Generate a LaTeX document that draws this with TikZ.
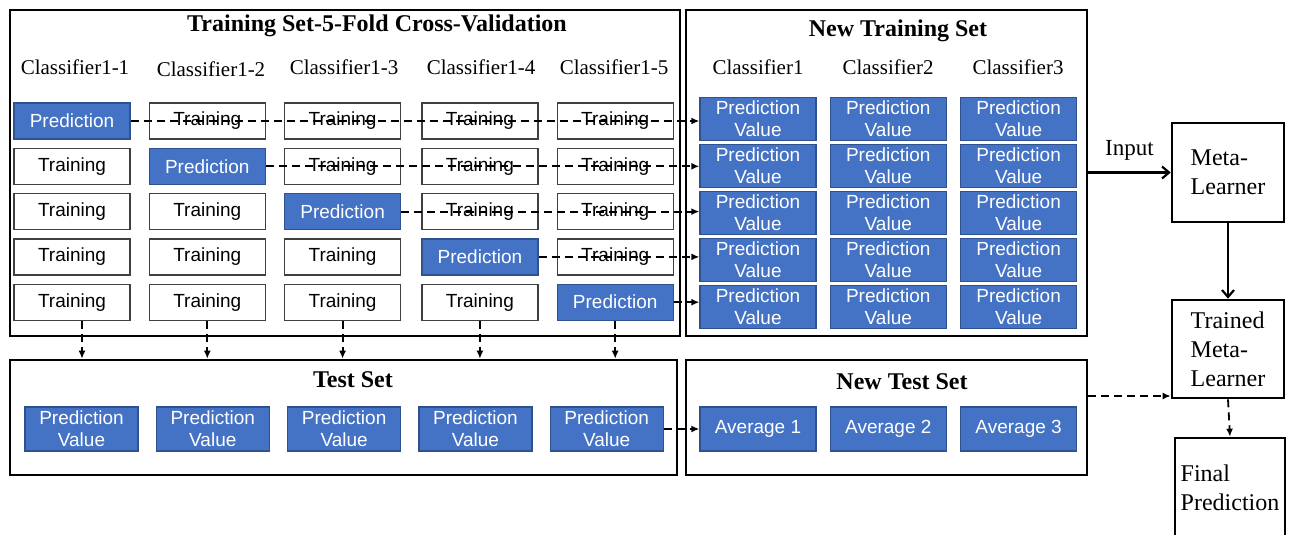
\documentclass[tikz,border=0pt]{standalone}
\usepackage{fontspec}
\setmainfont{Liberation Serif}
\setsansfont{Liberation Sans}
\usetikzlibrary{arrows.meta, positioning}
\definecolor{predfill}{HTML}{4472C4}
\definecolor{preddraw}{HTML}{2F528F}

\begin{document}
\begin{tikzpicture}[
  x=1pt, y=-1pt,
  frame/.style={draw, line width=2.6pt, inner sep=0pt},
  head/.style={font=\fontsize{24}{28}\selectfont\bfseries},
  clf/.style={font=\fontsize{21}{24}\selectfont},
  trainbox/.style={draw=black!75, line width=1.3pt, fill=white, minimum width=116pt, minimum height=36pt,
                   inner sep=0pt, font=\sffamily\fontsize{19}{22}\selectfont},
  predbox/.style={trainbox, draw=preddraw, fill=predfill, text=white},
  valbox/.style={predbox, minimum height=43pt, align=center},
  metabox/.style={draw, line width=2.6pt, minimum width=112pt, inner sep=0pt, align=left,
                  font=\fontsize{24}{29}\selectfont},
  darr/.style={line width=1.8pt, dash pattern=on 8pt off 5pt, -{Latex[length=8pt, width=7pt]}},
  sarr/.style={line width=2.2pt, -{Straight Barb[length=7pt, width=12pt]}},
]
  \useasboundingbox (0,0) rectangle (1298,535);

  % frames and their titles
  \node[frame, minimum width=670pt, minimum height=326pt] (trs) at (345,173) {};
  \node[frame, minimum width=401pt, minimum height=326pt] (ntrs) at (886.5,173) {};
  \node[frame, minimum width=667pt, minimum height=115pt] (tst) at (343.5,417.5) {};
  \node[frame, minimum width=401pt, minimum height=115pt] (ntst) at (886.5,417.5) {};

  \node[head] (trsh) at (377,26) {Training Set-5-Fold Cross-Validation};
  \node[head] (ntrsh) at (898,31) {New Training Set};
  \node[head] (tsth) at (353,380) {Test Set};
  \node[head] (ntsth) at (902,382) {New Test Set};

  \node[clf] (c1) at (75,67) {Classifier1-1};
  \node[clf] (c2) at (211,69) {Classifier1-2};
  \node[clf] (c3) at (344,67) {Classifier1-3};
  \node[clf] (c4) at (481,67) {Classifier1-4};
  \node[clf] (c5) at (614,67) {Classifier1-5};
  \node[clf] (nc1) at (758,67) {Classifier1};
  \node[clf] (nc2) at (888,67) {Classifier2};
  \node[clf] (nc3) at (1018,67) {Classifier3};

  % 5-fold grid
  \node[predbox] (t11) at (72,121) {Prediction};
  \node[trainbox, right=18pt of t11] (t12) {Training};
  \node[trainbox, right=18pt of t12] (t13) {Training};
  \node[trainbox, right=20pt of t13] (t14) {Training};
  \node[trainbox, right=18pt of t14] (t15) {Training};

  \node[trainbox, below=8pt of t11] (t21) {Training};
  \node[predbox, right=18pt of t21] (t22) {Prediction};
  \node[trainbox, right=18pt of t22] (t23) {Training};
  \node[trainbox, right=20pt of t23] (t24) {Training};
  \node[trainbox, right=18pt of t24] (t25) {Training};

  \node[trainbox, below=8pt of t21] (t31) {Training};
  \node[trainbox, right=18pt of t31] (t32) {Training};
  \node[predbox, right=18pt of t32] (t33) {Prediction};
  \node[trainbox, right=20pt of t33] (t34) {Training};
  \node[trainbox, right=18pt of t34] (t35) {Training};

  \node[trainbox, below=8pt of t31] (t41) {Training};
  \node[trainbox, right=18pt of t41] (t42) {Training};
  \node[trainbox, right=18pt of t42] (t43) {Training};
  \node[predbox, right=20pt of t43] (t44) {Prediction};
  \node[trainbox, right=18pt of t44] (t45) {Training};

  \node[trainbox, below=8pt of t41] (t51) {Training};
  \node[trainbox, right=18pt of t51] (t52) {Training};
  \node[trainbox, right=18pt of t52] (t53) {Training};
  \node[trainbox, right=20pt of t53] (t54) {Training};
  \node[predbox, right=18pt of t54] (t55) {Prediction};

  % new training set
  \node[valbox] (v11) at (758,119) {Prediction\\Value};
  \node[valbox, right=13pt of v11] (v12) {Prediction\\Value};
  \node[valbox, right=13pt of v12] (v13) {Prediction\\Value};
  \node[valbox, below=2.7pt of v11] (v21) {Prediction\\Value};
  \node[valbox, right=13pt of v21] (v22) {Prediction\\Value};
  \node[valbox, right=13pt of v22] (v23) {Prediction\\Value};
  \node[valbox, below=2.7pt of v21] (v31) {Prediction\\Value};
  \node[valbox, right=13pt of v31] (v32) {Prediction\\Value};
  \node[valbox, right=13pt of v32] (v33) {Prediction\\Value};
  \node[valbox, below=2.7pt of v31] (v41) {Prediction\\Value};
  \node[valbox, right=13pt of v41] (v42) {Prediction\\Value};
  \node[valbox, right=13pt of v42] (v43) {Prediction\\Value};
  \node[valbox, below=2.7pt of v41] (v51) {Prediction\\Value};
  \node[valbox, right=13pt of v51] (v52) {Prediction\\Value};
  \node[valbox, right=13pt of v52] (v53) {Prediction\\Value};

  % test set
  \node[valbox, minimum width=113pt, minimum height=44pt] (p1) at (81.5,429) {Prediction\\Value};
  \node[valbox, minimum width=113pt, minimum height=44pt, right=17pt of p1] (p2) {Prediction\\Value};
  \node[valbox, minimum width=113pt, minimum height=44pt, right=17pt of p2] (p3) {Prediction\\Value};
  \node[valbox, minimum width=113pt, minimum height=44pt, right=17pt of p3] (p4) {Prediction\\Value};
  \node[valbox, minimum width=113pt, minimum height=44pt, right=17pt of p4] (p5) {Prediction\\Value};

  \node[valbox, minimum height=44pt] (a1) at (758,429) {Average 1};
  \node[valbox, minimum height=44pt, right=13pt of a1] (a2) {Average 2};
  \node[valbox, minimum height=44pt, right=13pt of a2] (a3) {Average 3};

  % meta learner
  \node[metabox, minimum height=99pt] (ml) at (1228,172.5) {Meta-\\Learner};
  \node[metabox, minimum height=98pt] (tml) at (1228,349) {Trained\\Meta-\\Learner};
  \node[metabox, minimum width=110pt, minimum height=100pt] (fp) at (1230,488) {Final\\Prediction};
  \coordinate (tmlin) at ([yshift=-47pt]tml.west);

  % connectors
  \draw[darr] (t11.east) -- (t11.east -| v11.west);
  \draw[darr] (t22.east) -- (t22.east -| v21.west);
  \draw[darr] (t33.east) -- (t33.east -| v31.west);
  \draw[darr] (t44.east) -- (t44.east -| v41.west);
  \draw[darr] (t55.east) -- (t55.east -| v51.west);

  \draw[darr] ([xshift=10pt]t51.south) -- ([xshift=10pt]t51.south |- tst.north);
  \draw[darr] (t52.south) -- (t52.south |- tst.north);
  \draw[darr] (t53.south) -- (t53.south |- tst.north);
  \draw[darr] (t54.south) -- (t54.south |- tst.north);
  \draw[darr] (t55.south) -- (t55.south |- tst.north);

  \draw[darr] (p5.east) -- (a1.west);

  \draw[sarr] (ntrs.east |- ml.west) -- node[midway, above=8pt, font=\fontsize{23}{26}\selectfont] (inp) {Input} (ml.west);
  \draw[sarr] (ml.south) -- (tml.north);
  \draw[darr] (ntst.east |- tmlin) -- (tmlin);
  \draw[darr] (tml.south) -- (fp.north);
\end{tikzpicture}
\end{document}
